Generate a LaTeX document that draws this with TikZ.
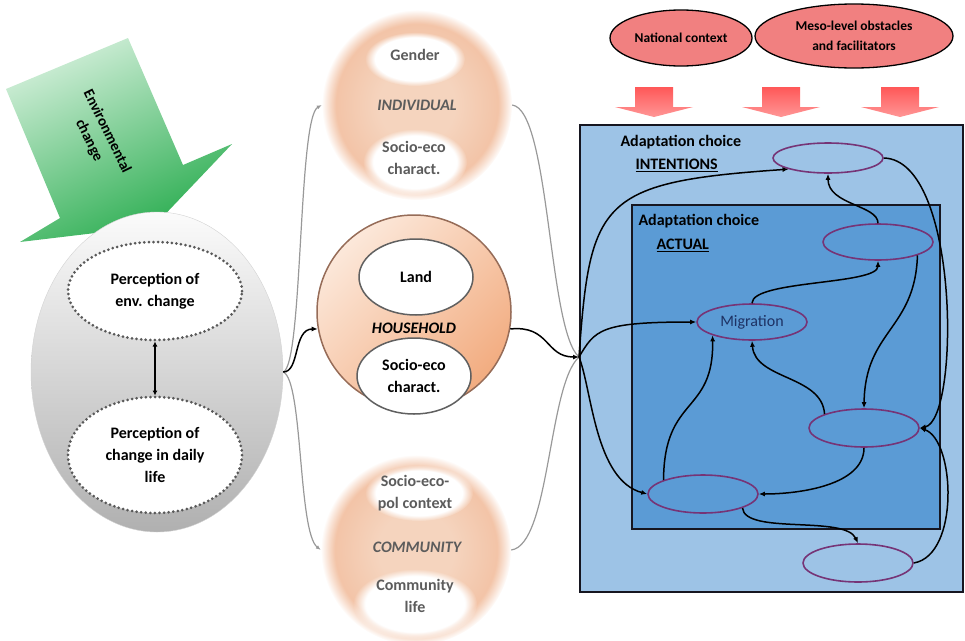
\documentclass[tikz,border=0pt]{standalone}
\usepackage{fontspec}
\setmainfont{Carlito}
\usetikzlibrary{shapes.geometric,arrows.meta,fadings}

\definecolor{envtop}{RGB}{208,238,216}
\definecolor{envbot}{RGB}{40,172,78}
\definecolor{ctxred}{RGB}{241,128,128}
\definecolor{arrowred}{RGB}{255,88,88}
\definecolor{arrowpale}{RGB}{255,150,150}
\definecolor{softgray}{RGB}{92,92,92}
\definecolor{hhedge}{RGB}{150,108,88}
\definecolor{hhtop}{RGB}{252,232,218}
\definecolor{hhbot}{RGB}{242,172,128}
\definecolor{peachin}{RGB}{245,212,190}
\definecolor{peachout}{RGB}{242,192,162}
\definecolor{skyout}{RGB}{157,195,230}
\definecolor{skyin}{RGB}{91,155,213}
\definecolor{boxedge}{RGB}{22,22,32}
\definecolor{choiceedge}{RGB}{118,52,118}
\definecolor{navytext}{RGB}{30,50,100}

\pgfdeclareradialshading{softpeach}{\pgfpoint{0bp}{0bp}}{%
  color(0bp)=(peachin); color(10bp)=(peachin); color(24bp)=(peachout);
  color(25bp)=(peachout); color(50bp)=(peachout)}

\tikzset{
  txt/.style={font=\bfseries\fontsize{16}{22}\selectfont, align=center},
  softtxt/.style={txt, text=softgray},
  level/.style={softtxt, font=\bfseries\itshape\fontsize{16}{22}\selectfont},
  percbox/.style={ellipse, draw=gray!70!black, fill=white, line width=3pt,
    dash pattern=on 0pt off 4.6pt, line cap=round, minimum width=174pt, inner sep=1pt, txt},
  softball/.style={circle, minimum size=190pt, inner sep=0pt, shading=softpeach,
    path fading=circle with fuzzy edge 15 percent},
  blob/.style={white, path fading=circle with fuzzy edge 20 percent},
  hhpart/.style={ellipse, fill=white, draw=gray!75!black, line width=1.5pt,
    minimum width=114pt, minimum height=76pt, inner sep=1pt, txt},
  ctx/.style={ellipse, draw=black, line width=1.3pt, fill=ctxred, align=center,
    font=\bfseries\fontsize{13.5}{20}\selectfont},
  redarrow/.style={top color=arrowred, bottom color=arrowpale},
  choice/.style={ellipse, draw=choiceedge, line width=1.6pt, minimum width=110pt,
    minimum height=36pt, inner sep=0pt},
  boxlbl/.style={txt, anchor=west},
  link/.style={-{Latex[length=6pt,width=5pt]}, line width=1.5pt, black},
  grayline/.style={line width=1.2pt, gray!80},
}

\begin{document}
\begin{tikzpicture}[x=1pt,y=-1pt]
\useasboundingbox (0,0) rectangle (965,640);

% environmental change arrow
\shade[top color=envtop, bottom color=envbot, shading angle=25]
  (6,89) -- (128,38) -- (183,165) -- (232,144) -- (154,226) -- (20,242) -- (60,218) -- cycle;
\node[txt, rotate=-64, font=\bfseries\fontsize{15}{20}\selectfont] (envlbl) at (98,136) {Environmental\\change};

% perception
\node[ellipse, minimum width=252pt, minimum height=320pt, draw=gray!35,
  top color=gray!3, bottom color=gray!62] (perc) at (157,372) {};
\node[percbox, minimum height=98pt] (envp) at (155,291) {Perception of\\env. change};
\node[percbox, minimum height=116pt] (dailyp) at (155,455) {Perception of\\change in daily\\life};
\draw[{Latex[length=5pt,width=5pt]}-{Latex[length=5pt,width=5pt]}, line width=1.6pt]
  (envp) -- (dailyp);

% individual
\node[softball] (ind) at (417,105) {};
\fill[blob] (415,59) ellipse (50 and 27);
\fill[blob] (415,162) ellipse (52 and 33);
\node[softtxt] (gender) at (415,55) {Gender};
\node[level] (indlbl) at (417,105) {INDIVIDUAL};
\node[softtxt] (indsoc) at (414,158) {Socio-eco\\charact.};

% household
\node[circle, minimum size=194pt, draw=hhedge, line width=1.5pt,
  top color=hhtop, bottom color=hhbot, shading angle=45] (hh) at (414,312) {};
\node[hhpart] (land) at (416,277) {Land};
\node[hhpart] (hhsoc) at (414,376) {Socio-eco\\charact.};
\node[level, text=black] (hhlbl) at (414,328) {HOUSEHOLD};

% community
\node[softball] (com) at (416,550) {};
\fill[blob] (419,493) ellipse (54 and 28);
\fill[blob] (415,604) ellipse (62 and 35);
\node[softtxt] (comsoc) at (415,493) {Socio-eco-\\pol context};
\node[level] (comlbl) at (417,547) {COMMUNITY};
\node[softtxt] (comlife) at (415,596) {Community\\life};

% context
\node[ctx, minimum width=142pt, minimum height=56pt] (natl) at (681,38) {National context};
\node[ctx, minimum width=198pt, minimum height=64pt] (meso) at (854,36) {Meso-level obstacles\\and facilitators};
\foreach \cx in {654,781,900}
  \shade[redarrow] (\cx-19,87) -- (\cx+19,87) -- (\cx+19,107) -- (\cx+39,107)
    -- (\cx,117) -- (\cx-39,107) -- (\cx-19,107) -- cycle;

% adaptation boxes
\filldraw[fill=skyout, draw=boxedge, line width=2pt] (580,125) rectangle (963,592);
\filldraw[fill=skyin, draw=boxedge, line width=2pt] (632,205) rectangle (940,529);
\node[boxlbl] (intlbl) at (617,142) {Adaptation choice};
\node[boxlbl] (inttag) at (632,165) {\underline{INTENTIONS}};
\node[boxlbl] (actlbl) at (635,221) {Adaptation choice};
\node[boxlbl] (acttag) at (653,245) {\underline{ACTUAL}};

\node[choice, minimum height=30pt] (int1) at (828,158) {};
\node[choice] (act1) at (878,242) {};
\node[choice, font=\fontsize{16}{19}\selectfont, text=navytext] (mig) at (752,322) {Migration};
\node[choice, minimum height=38pt] (act2) at (864,428) {};
\node[choice, minimum height=38pt] (act3) at (703,494) {};
\node[choice, minimum height=38pt] (int2) at (858,563) {};
\coordinate (hub) at (579,357);

% from perception to levels
\draw[grayline, -{Latex[length=5pt,width=4pt]}] (perc.east) .. controls (303,365) and (298,118) .. (ind.west);
\draw[grayline, -{Latex[length=5pt,width=4pt]}] (perc.east) .. controls (303,380) and (298,532) .. (com.west);
\draw[link] (perc.east) .. controls (300,372) and (293,329) .. (hh.190);

% from levels to choices
\draw[grayline] (ind.east) .. controls (550,110) and (548,330) .. (hub);
\draw[grayline] (com.east) .. controls (550,545) and (548,385) .. (hub);
\draw[link] (hh.-10) .. controls (550,325) and (545,357) .. (hub);

\draw[link] (hub) .. controls (590,200) and (600,182) .. (int1.south west);
\draw[link] (hub) .. controls (595,330) and (600,322) .. (mig.west);
\draw[link] (hub) .. controls (592,390) and (595,480) .. (act3.west);
\draw[link] (act3.north west) .. controls (664,395) and (714,415) .. (mig.south west);
\draw[link] (act2.north west) .. controls (822,375) and (755,380) .. (mig.south);
\draw[link] (mig.north) .. controls (752,280) and (878,285) .. (act1.south);
\draw[link] (act1.south east) .. controls (915,330) and (865,330) .. (act2.north);
\draw[link] (act2.south) .. controls (864,485) and (800,494) .. (act3.east);
\draw[link] (act3.south east) .. controls (745,535) and (845,515) .. (int2.north);
\draw[link] (int2.east) .. controls (960,555) and (955,440) .. (act2.east);
\draw[link] (int1.east) .. controls (960,160) and (960,420) .. (act2.east);
\draw[link] (act1.north) .. controls (878,205) and (828,205) .. (int1.south);
\end{tikzpicture}
\end{document}
